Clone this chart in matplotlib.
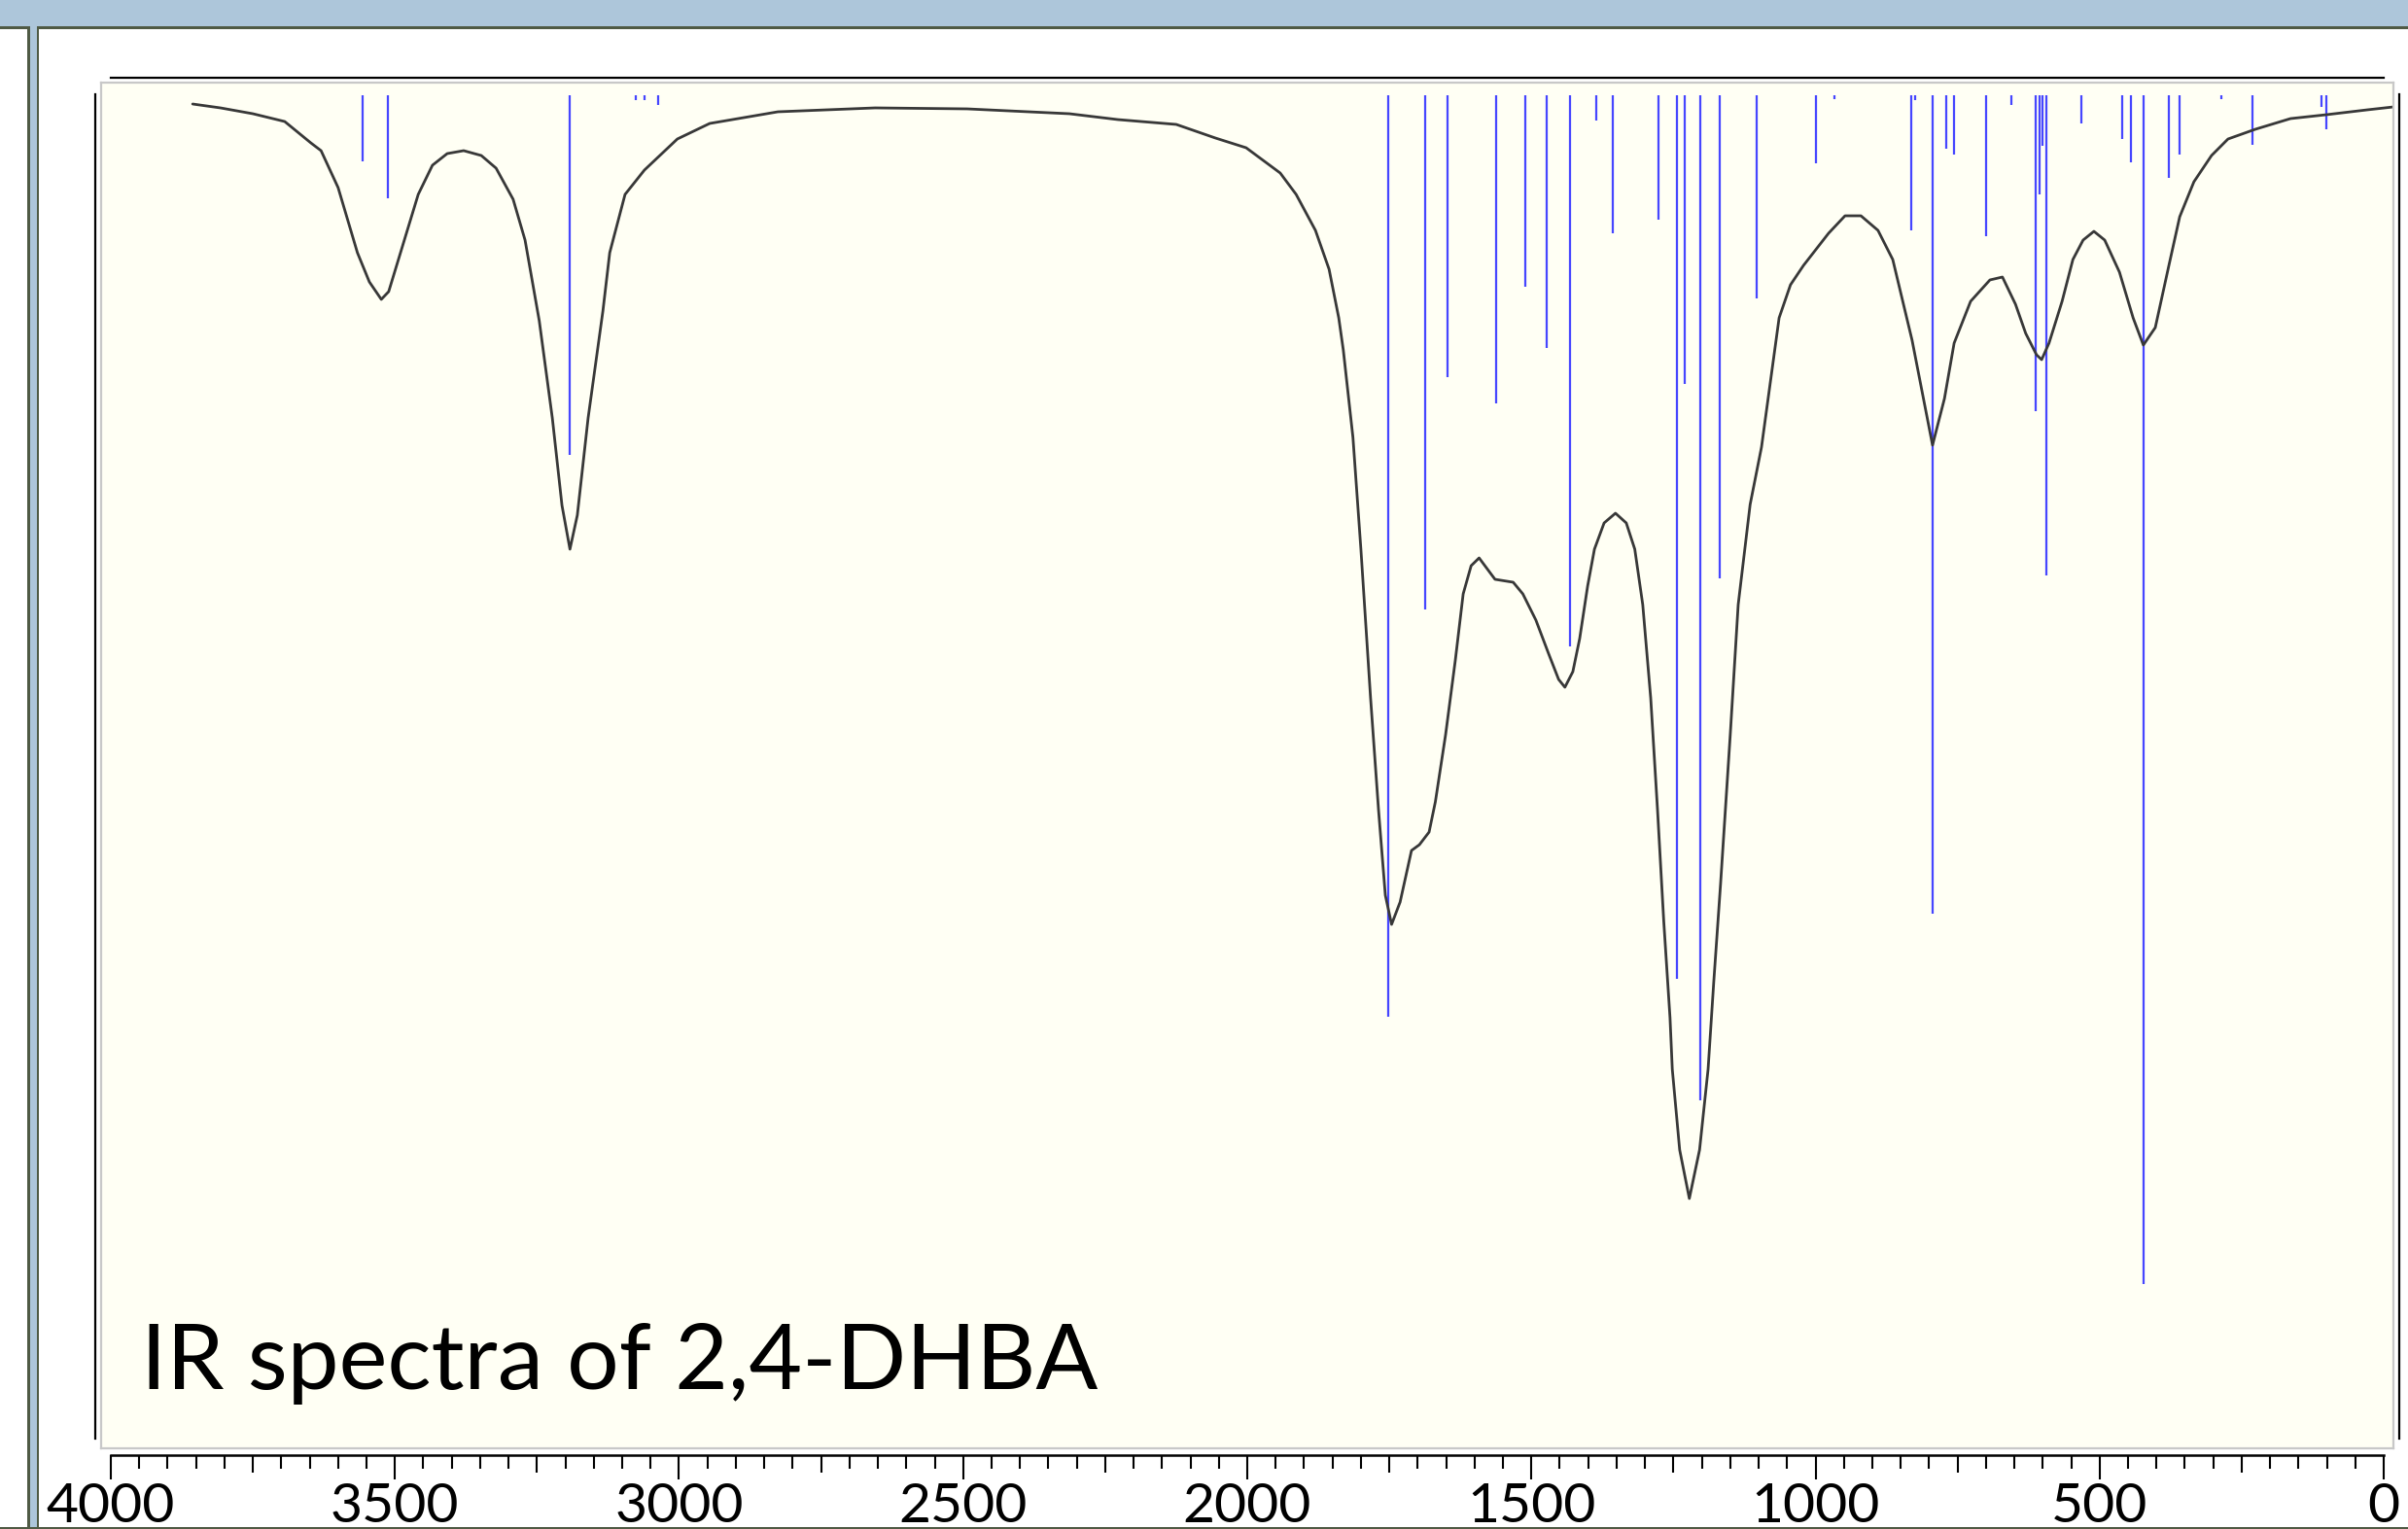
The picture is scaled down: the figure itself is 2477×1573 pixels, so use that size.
import matplotlib
matplotlib.use("Agg")
import matplotlib.pyplot as plt
from matplotlib.patches import Rectangle
from matplotlib.ticker import FixedLocator
from matplotlib.transforms import blended_transform_factory

plt.rcParams['font.family'] = ['Lato', 'DejaVu Sans']

# broadened IR spectrum (wavenumber cm-1, depth below baseline)
curve_wn = [3856, 3807, 3750, 3694, 3648, 3630, 3600, 3566, 3545, 3524, 3511, 3485,
            3459, 3434, 3408, 3379, 3348, 3322, 3292, 3271, 3246, 3223, 3206, 3192,
            3179, 3160, 3134, 3122, 3095, 3061, 3003, 2946, 2826, 2655, 2493, 2313,
            2228, 2125, 2056, 2002, 1942, 1914, 1880, 1856, 1839, 1831, 1814, 1800,
            1783, 1769, 1757, 1746, 1731, 1711, 1697, 1680, 1669, 1651, 1634, 1620,
            1606, 1592, 1564, 1532, 1515, 1492, 1470, 1452, 1441, 1427, 1415, 1401,
            1389, 1372, 1352, 1333, 1318, 1304, 1290, 1278, 1267, 1256, 1252, 1239,
            1222, 1204, 1189, 1179, 1167, 1150, 1136, 1115, 1095, 1064, 1044, 1021,
            977, 948, 920, 890, 864, 830, 794, 773, 756, 727, 693, 671, 648, 630,
            611, 602, 589, 566, 547, 529, 510, 491, 465, 441, 423, 402, 378, 359,
            334, 303, 274, 226, 164, 101, 29, -17]
curve_depth = [9, 13, 19, 27, 49, 57, 95, 162, 192, 210, 202, 152,
               102, 72, 60, 57, 62, 75, 107, 149, 232, 332, 422, 467,
               432, 332, 222, 162, 102, 77, 45, 29, 17, 13, 14, 19,
               25, 30, 44, 54, 80, 102, 139, 179, 229, 262, 352, 467,
               620, 735, 823, 853, 830, 777, 771, 758, 727, 658, 582, 513,
               484, 476, 498, 501, 513, 540, 574, 601, 609, 593, 559, 505,
               467, 440, 430, 440, 467, 524, 620, 735, 850, 949, 1002, 1085,
               1135, 1085, 1002, 912, 811, 658, 524, 421, 362, 229, 195, 175,
               142, 124, 124, 139, 169, 252, 360, 312, 255, 212, 190, 187, 215, 245,
               267, 272, 255, 212, 169, 149, 140, 149, 182, 229, 257, 239, 175, 125,
               89, 62, 45, 35, 24, 20, 15, 12]

# computed normal modes (wavenumber, stick intensity)
stick_wn = [3557, 3512, 3193, 3076, 3061, 3036, 1752, 1687, 1648, 1562, 1511, 1473,
            1432, 1386, 1357, 1276, 1244, 1230, 1203, 1168, 1103, 999, 967, 831,
            825, 794, 770, 756, 699, 656, 612, 605, 600, 594, 532, 460, 444, 423,
            378, 360, 286, 231, 110, 101]
stick_int = [68, 106, 370, 5, 5, 10, 948, 529, 290, 317, 197, 260,
             567, 26, 142, 128, 909, 297, 1034, 497, 209, 70, 4, 139,
             5, 842, 55, 61, 145, 10, 325, 102, 52, 494, 29, 45, 69, 1223,
             85, 61, 4, 51, 12, 35]

x_major = list(range(0, 4001, 500))
x_mid = list(range(250, 4000, 500))
x_minor = [v for v in range(0, 4001, 50) if v % 250 != 0]
title = "IR spectra of 2,4-DHBA"

W, H = 2477, 1573
fig = plt.figure(figsize=(W / 100, H / 100), dpi=100)
fig.patch.set_facecolor('white')

# window chrome, in pixel coordinates
bg = fig.add_axes([0, 0, 1, 1])
bg.set_xlim(0, W)
bg.set_ylim(H, 0)
bg.axis('off')
frame = '#4f5a44'
bg.add_patch(Rectangle((0, 0), W, 28, color='#adc6da', lw=0))
bg.add_patch(Rectangle((0, 27), W, 2.5, color=frame, lw=0))
bg.add_patch(Rectangle((28, 27), 12, H, color='#adc6da', lw=0))
bg.add_patch(Rectangle((28, 27), 2.5, H, color=frame, lw=0))
bg.add_patch(Rectangle((37.5, 27), 2.5, H, color=frame, lw=0))
bg.add_patch(Rectangle((0, H - 2.5), W, 2.5, color=frame, lw=0))
bg.plot([98, 98], [97, 1480], color='black', lw=1.6)
bg.plot([2468, 2468], [97, 1480], color='black', lw=1.6)

def px_rect(x0, y0, x1, y1):
    return [x0 / W, 1 - y1 / H, (x1 - x0) / W, (y1 - y0) / H]

xl = (4017.1, -17.1)

ax = fig.add_axes(px_rect(104, 85, 2462, 1490))
ax.set_facecolor('#fffff4')
for s in ax.spines.values():
    s.set_color('#c8c8c8')
    s.set_linewidth(1.6)
ax.set_xlim(*xl)
ax.set_ylim(1392, -13)
ax.set_xticks([])
ax.set_yticks([])

ax.vlines(stick_wn, 0, stick_int, colors='#4646ff', lw=1.6)
ax.plot(curve_wn, curve_depth, color='#383838', lw=2.0,
        solid_joinstyle='round', solid_capstyle='round')
ax.text(0.0175, 0.0435, title, transform=ax.transAxes, fontsize=68,
        ha='left', va='baseline', color='black')

# black line over the plot, spanning the wavenumber range
tr = blended_transform_factory(ax.transData, bg.transData)
bg.plot([4000, 0], [79.5, 79.5], color='black', lw=1.6, transform=tr)

# wavenumber axis below the plot
axx = fig.add_axes(px_rect(104, 1400, 2462, 1497))
axx.set_xlim(*xl)
axx.patch.set_visible(False)
for k in ['top', 'left', 'right']:
    axx.spines[k].set_visible(False)
axx.spines['bottom'].set_bounds(0, 4000)
axx.spines['bottom'].set_linewidth(1.8)
axx.set_yticks([])
axx.set_xticks(x_major)
axx.set_xticklabels([str(v) for v in x_major])
axx.xaxis.set_minor_locator(FixedLocator(x_minor))
axx.tick_params(axis='x', which='major', length=18, width=1.5, labelsize=41, pad=2)
axx.tick_params(axis='x', which='minor', length=10, width=1.5)

axm = fig.add_axes(px_rect(104, 1400, 2462, 1497))
axm.set_xlim(*xl)
axm.patch.set_visible(False)
for s in axm.spines.values():
    s.set_visible(False)
axm.set_yticks([])
axm.set_xticks(x_mid)
axm.set_xticklabels([])
axm.tick_params(axis='x', which='major', length=13, width=1.5)

fig.savefig('out.png', dpi=100)
